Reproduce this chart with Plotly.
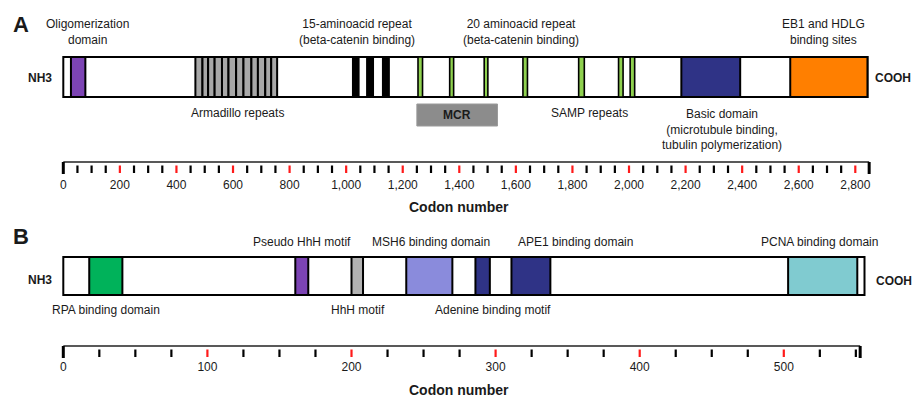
import plotly.graph_objects as go

W, H = 914, 398
FONT = "Liberation Sans, Arial, sans-serif"

# ---------------- Panel A : APC (codons) ----------------
apc_length = 2843
apc_ruler_end = 2849
oligo_dom = [27, 78]
armadillo_edges = [467, 492, 512, 535, 561, 584, 611, 637, 665, 688, 714, 735, 756]
rep15_start = [1024, 1074, 1130]
rep15_end = [1044, 1095, 1151]
rep20_start = [1254, 1366, 1488, 1625, 1822, 1963, 2004]
rep20_end = [1270, 1380, 1501, 1641, 1842, 1979, 2020]
basic_dom = [2185, 2393]
eb1_dom = [2570, 2843]
mcr_region = [1250, 1535]
apc_major_ticks = [0, 200, 400, 600, 800, 1000, 1200, 1400, 1600, 1800, 2000, 2200, 2400, 2600, 2800]
apc_tick_labels = ["0", "200", "400", "600", "800", "1,000", "1,200", "1,400", "1,600",
                   "1,800", "2,000", "2,200", "2,400", "2,600", "2,800"]
apc_minor_step = 50

# ---------------- Panel B : MUTYH (codons) ----------------
muty_length = 556
muty_ruler_end = 553
rpa_dom = [18, 41]
pseudo_hhh = [161, 170]
hhh_motif = [200, 208]
msh6_dom = [238, 270]
adenine_motif = [286, 296]
ape1_dom = [311, 338]
pcna_dom = [503, 551]
muty_major_ticks = [0, 100, 200, 300, 400, 500]
muty_tick_labels = ["0", "100", "200", "300", "400", "500"]
muty_minor_step = 25

# ---------------- layout constants (pixels) ----------------
X0 = 63.3
SCALE_A = 792 / 2800
SCALE_B = 1.441
ROW_A, HT_A = 77, 40
ROW_B, HT_B = 276, 38
MCR_Y, MCR_H = 115, 22
RULE_A = dict(line=162, t0=165.5, t1=173, lab=186, title=207)
RULE_B = dict(line=346, t0=349.5, t1=357, lab=368, title=389.5)

fig = go.Figure()


def add_bars(starts, ends, row, height, fill, axis, lw=2, lc="black"):
    fig.add_trace(go.Bar(
        orientation="h",
        base=starts,
        x=[e - s for s, e in zip(starts, ends)],
        y=[row] * len(starts),
        width=height,
        marker=dict(color=fill, line=dict(color=lc, width=lw)),
        xaxis=axis, yaxis="y",
        hoverinfo="skip", showlegend=False,
    ))


# Panel A bars
add_bars([0], [apc_length], ROW_A, HT_A, "white", "x")
add_bars([oligo_dom[0]], [oligo_dom[1]], ROW_A, HT_A, "#7c44b4", "x")
add_bars(armadillo_edges[:-1], armadillo_edges[1:], ROW_A, HT_A, "#a8a8a8", "x")
add_bars(rep15_start, rep15_end, ROW_A, HT_A, "black", "x")
add_bars(rep20_start, rep20_end, ROW_A, HT_A, "#8fd14f", "x", lw=1.6)
add_bars([basic_dom[0]], [basic_dom[1]], ROW_A, HT_A, "#2f3386", "x")
add_bars([eb1_dom[0]], [eb1_dom[1]], ROW_A, HT_A, "#ff7f00", "x")
add_bars([mcr_region[0]], [mcr_region[1]], MCR_Y, MCR_H, "#8c8c8c", "x", lw=1, lc="#9a9a9a")

# Panel B bars
add_bars([0], [muty_length], ROW_B, HT_B, "white", "x2")
add_bars([rpa_dom[0]], [rpa_dom[1]], ROW_B, HT_B, "#00b25a", "x2")
add_bars([pseudo_hhh[0]], [pseudo_hhh[1]], ROW_B, HT_B, "#7c44b4", "x2")
add_bars([hhh_motif[0]], [hhh_motif[1]], ROW_B, HT_B, "#b3b3b3", "x2")
add_bars([msh6_dom[0]], [msh6_dom[1]], ROW_B, HT_B, "#8a8bdc", "x2")
add_bars([adenine_motif[0], ape1_dom[0]], [adenine_motif[1], ape1_dom[1]], ROW_B, HT_B, "#2f3386", "x2")
add_bars([pcna_dom[0]], [pcna_dom[1]], ROW_B, HT_B, "#80cbd0", "x2")


def add_ruler(end, step, majors, labels, r, axis):
    # baseline and end marks
    fig.add_trace(go.Scatter(x=[0, end], y=[r["line"], r["line"]], mode="lines",
                             line=dict(color="#222", width=1.6), xaxis=axis, yaxis="y",
                             hoverinfo="skip", showlegend=False))
    fig.add_trace(go.Scatter(x=[0, 0, None, end, end, None],
                             y=[r["line"], r["t1"] + 1, None, r["line"], r["t1"] + 1, None],
                             mode="lines", line=dict(color="black", width=3),
                             xaxis=axis, yaxis="y", hoverinfo="skip", showlegend=False))
    minors = [t for t in range(step, end, step) if t not in majors]
    xs, ys = [], []
    for t in minors:
        xs += [t, t, None]
        ys += [r["t0"], r["t1"], None]
    fig.add_trace(go.Scatter(x=xs, y=ys, mode="lines", line=dict(color="black", width=2.2),
                             xaxis=axis, yaxis="y", hoverinfo="skip", showlegend=False))
    xs, ys = [], []
    for t in majors[1:]:
        xs += [t, t, None]
        ys += [r["t0"], r["t1"], None]
    fig.add_trace(go.Scatter(x=xs, y=ys, mode="lines", line=dict(color="#ff1a1a", width=2.2),
                             xaxis=axis, yaxis="y", hoverinfo="skip", showlegend=False))
    fig.add_trace(go.Scatter(x=majors, y=[r["lab"]] * len(majors), mode="text", text=labels,
                             textposition="middle center",
                             textfont=dict(family=FONT, size=12, color="#1a1a1a"),
                             xaxis=axis, yaxis="y", hoverinfo="skip", showlegend=False))


add_ruler(apc_ruler_end, apc_minor_step, apc_major_ticks, apc_tick_labels, RULE_A, "x")
add_ruler(muty_ruler_end, muty_minor_step, muty_major_ticks, muty_tick_labels, RULE_B, "x2")

annotations = []


def label(text, px, py, size=12, bold=False):
    if bold:
        text = "<b>" + text + "</b>"
    annotations.append(dict(text=text, x=px / W, y=py, xref="paper", yref="y",
                            showarrow=False, xanchor="center", yanchor="middle",
                            font=dict(family=FONT, size=size, color="#1a1a1a"),
                            align="center"))


# Panel A labels
label("A", 21, 24, size=22, bold=True)
label("Oligomerization<br>domain", 87, 32)
label("15-aminoacid repeat<br>(beta-catenin binding)", 357, 32)
label("20 aminoacid repeat<br>(beta-catenin binding)", 521, 32)
label("EB1 and HDLG<br>binding sites", 823, 32)
label("NH3", 40, 78, bold=True)
label("COOH", 893, 78, bold=True)
label("Armadillo repeats", 237, 113)
label("SAMP repeats", 589, 113)
label("Basic domain<br>(microtubule binding,<br>tubulin polymerization)", 722, 129)
label("Codon number", 459, RULE_A["title"], size=14, bold=True)
annotations.append(dict(text="<b>MCR</b>", x=sum(mcr_region) / 2, y=MCR_Y, xref="x", yref="y",
                        showarrow=False, font=dict(family=FONT, size=12, color="#1a1a1a")))

# Panel B labels
label("B", 21, 236, size=22, bold=True)
label("Pseudo HhH motif", 302, 242)
label("MSH6 binding domain", 431, 242)
label("APE1 binding domain", 575, 242)
label("PCNA binding domain", 819, 242)
label("NH3", 40, 280, bold=True)
label("COOH", 894, 281, bold=True)
label("RPA binding domain", 106, 310)
label("HhH motif", 358, 310)
label("Adenine binding motif", 493, 310)
label("Codon number", 459, RULE_B["title"], size=14, bold=True)

axis_common = dict(visible=False, showgrid=False, zeroline=False, fixedrange=True)
fig.update_layout(
    width=W, height=H,
    margin=dict(l=0, r=0, t=0, b=0),
    paper_bgcolor="white", plot_bgcolor="white",
    barmode="overlay",
    showlegend=False,
    xaxis=dict(range=[-X0 / SCALE_A, (W - X0) / SCALE_A], domain=[0, 1], **axis_common),
    xaxis2=dict(range=[-X0 / SCALE_B, (W - X0) / SCALE_B], domain=[0, 1],
                overlaying="x", anchor="y", **axis_common),
    yaxis=dict(range=[H, 0], domain=[0, 1], **axis_common),
    annotations=annotations,
)

fig.write_html(
    "out.html",
    config={"displayModeBar": False, "staticPlot": True},
    post_script="document.body.style.margin='0';document.body.style.overflow='hidden';",
)
